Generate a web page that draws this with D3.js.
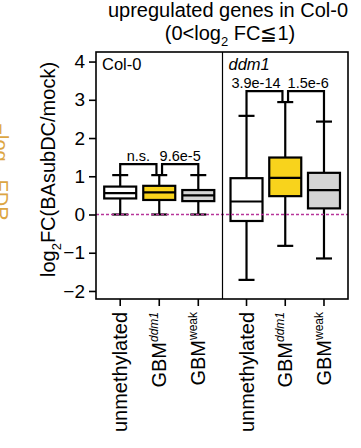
<!DOCTYPE html>
<html>
<head>
<meta charset="utf-8">
<script src="https://cdn.jsdelivr.net/npm/d3@7"></script>
<style>
html,body{margin:0;padding:0;background:#fff;}
svg{display:block;font-family:"Liberation Sans",Arial,Helvetica,sans-serif;}
</style>
</head>
<body>
<svg id="chart" width="361" height="448"></svg>
<script>
// ---- data ----
const panels = ["Col-0", "ddm1"];
const categories = ["unmethylated", "GBMddm1", "GBMweak"];
const yTicks = [-2, -1, 0, 1, 2, 3, 4];
// box stats per panel (order of categories)
const colLow  = [0.00, 0.00, 0.00];
const colQ1   = [0.42, 0.38, 0.35];
const colMed  = [0.56, 0.58, 0.50];
const colQ3   = [0.73, 0.75, 0.64];
const colHigh = [1.03, 1.03, 1.03];
const ddmLow  = [-1.71, -0.82, -1.15];
const ddmQ1   = [-0.17, 0.48, 0.16];
const ddmMed  = [0.34, 0.96, 0.64];
const ddmQ3   = [0.95, 1.49, 1.09];
const ddmHigh = [2.58, 2.94, 2.43];
const colPvals = ["n.s.", "9.6e-5"];
const ddmPvals = ["3.9e-14", "1.5e-6"];
const fills = ["#ffffff", "#f8d31c", "#d4d4d4"];

const stats = [
  {low: colLow, q1: colQ1, med: colMed, q3: colQ3, high: colHigh, p: colPvals},
  {low: ddmLow, q1: ddmQ1, med: ddmMed, q3: ddmQ3, high: ddmHigh, p: ddmPvals}
];

(function () {
const svg = d3.select("#chart");
const pL = 96, pR = 348, pT = 52, pB = 299, divider = 222.5;

const y = d3.scaleLinear().domain([-2.21, 4.25]).range([pB, pT]);
const panelX = d3.scaleOrdinal().domain(panels).range([[pL, divider], [divider, pR]]);
const xs = panels.map(p => d3.scalePoint().domain(categories).range(panelX(p)).padding(0.62));

// title
svg.append("text").attr("x", 228).attr("y", 17).attr("text-anchor", "middle")
  .attr("font-size", 20).text("upregulated genes in Col-0");
const t2 = svg.append("text").attr("x", 230).attr("y", 40).attr("text-anchor", "middle").attr("font-size", 20);
t2.append("tspan").text("(0<log");
t2.append("tspan").attr("font-size", 13).attr("dy", 6).text("2");
t2.append("tspan").attr("dy", -6).text(" FC\u2266" + "1)");

// orange cut-off label from neighbouring panel
const ol = svg.append("text").attr("transform", "translate(-6,172) rotate(90)")
  .attr("text-anchor", "middle").attr("font-size", 20).attr("fill", "#dca543");
ol.append("tspan").text("\u2212log");
ol.append("tspan").attr("font-size", 11).attr("dy", 5).text("10");
ol.append("tspan").attr("dy", -5).text(" FDR");

// y axis
const yAxis = d3.axisLeft(y).tickValues(yTicks).tickSize(7).tickPadding(4).tickFormat(d3.format("d"));
const ga = svg.append("g").attr("transform", `translate(${pL},0)`).call(yAxis);
ga.select(".domain").remove();
ga.selectAll(".tick line").attr("stroke", "#000").attr("stroke-width", 1.6);
ga.selectAll(".tick text").attr("font-size", 19).attr("fill", "#000")
  .attr("font-family", "'Liberation Sans',Arial,sans-serif");

// y label
const yl = svg.append("text").attr("transform", `translate(55,${(pT + pB) / 2 - 6}) rotate(-90)`)
  .attr("text-anchor", "middle").attr("font-size", 20);
yl.append("tspan").text("log");
yl.append("tspan").attr("font-size", 13).attr("dy", 6).text("2");
yl.append("tspan").attr("dy", -6).text("FC(BAsubDC/mock)");

// panels
panels.forEach((p, pi) => {
  const x = xs[pi];
  const s = stats[pi];
  const g = svg.append("g");
  const bw = 32, cw = 16;
  categories.forEach((c, i) => {
    const cx = x(c);
    g.append("line").attr("x1", cx).attr("x2", cx).attr("y1", y(s.high[i])).attr("y2", y(s.low[i]))
      .attr("stroke", "#000").attr("stroke-width", 2.2);
    [s.high[i], s.low[i]].forEach(v => g.append("line").attr("x1", cx - cw / 2).attr("x2", cx + cw / 2)
      .attr("y1", y(v)).attr("y2", y(v)).attr("stroke", "#000").attr("stroke-width", 2.2));
    g.append("rect").attr("x", cx - bw / 2).attr("width", bw).attr("y", y(s.q3[i]))
      .attr("height", y(s.q1[i]) - y(s.q3[i])).attr("fill", fills[i]).attr("stroke", "#000").attr("stroke-width", 2.2);
    g.append("line").attr("x1", cx - bw / 2).attr("x2", cx + bw / 2).attr("y1", y(s.med[i])).attr("y2", y(s.med[i]))
      .attr("stroke", "#000").attr("stroke-width", 2.2);
    // x tick
    svg.append("line").attr("x1", cx).attr("x2", cx).attr("y1", pB).attr("y2", pB + 7)
      .attr("stroke", "#000").attr("stroke-width", 1.6);
    // x label
    const lab = svg.append("text").attr("transform", `translate(${cx},${pB + 13}) rotate(-90)`)
      .attr("text-anchor", "end").attr("dy", "0.35em").attr("font-size", 20);
    if (c === "unmethylated") lab.text("unmethylated");
    else {
      lab.append("tspan").text("GBM");
      lab.append("tspan").attr("font-size", 12).attr("dy", -8)
        .attr("font-style", c === "GBMddm1" ? "italic" : "normal")
        .text(c === "GBMddm1" ? "ddm1" : "weak");
    }
  });
  // brackets
  const maxTop = d3.max(s.high);
  const by = y(maxTop) - 11;
  const pairs = [[0, 1], [1, 2]];
  const labels = [];
  pairs.forEach(([a, b], k) => {
    const xa = x(categories[a]) + (k === 1 ? 2.8 : 0);
    const xb = x(categories[b]) - (k === 0 ? 2.8 : 0);
    g.append("path").attr("fill", "none").attr("stroke", "#000").attr("stroke-width", 2.2)
      .attr("d", `M${xa},${y(s.high[a])}V${by}H${xb}V${y(s.high[b])}`);
    const t = svg.append("text").attr("x", (xa + xb) / 2).attr("y", by - 3).attr("text-anchor", "middle")
      .attr("font-size", 14.5).text(s.p[k]);
    labels.push(t);
  });
  // resolve overlap of the two p-value labels
  const w0 = labels[0].node().getComputedTextLength(), w1 = labels[1].node().getComputedTextLength();
  const c0 = +labels[0].attr("x"), c1 = +labels[1].attr("x");
  const overlap = (c0 + w0 / 2) - (c1 - w1 / 2) + 7;
  if (overlap > 0) {
    labels[0].attr("x", c0 - overlap * 0.8);
    labels[1].attr("x", c1 + overlap * 0.2);
  }
  // panel label
  svg.append("text").attr("x", panelX(p)[0] + 6).attr("y", 70).attr("font-size", 16.5)
    .attr("font-style", pi === 1 ? "italic" : "normal").text(p);
});

// zero reference line
svg.append("line").attr("x1", pL).attr("x2", pR).attr("y1", y(0)).attr("y2", y(0))
  .attr("stroke", "#b8359a").attr("stroke-width", 1.5).attr("stroke-dasharray", "3,2");

// frame
svg.append("rect").attr("x", pL).attr("y", pT).attr("width", pR - pL).attr("height", pB - pT)
  .attr("fill", "none").attr("stroke", "#000").attr("stroke-width", 1.6);
svg.append("line").attr("x1", divider).attr("x2", divider).attr("y1", pT).attr("y2", pB)
  .attr("stroke", "#000").attr("stroke-width", 1.2);
})();
</script>
</body>
</html>
